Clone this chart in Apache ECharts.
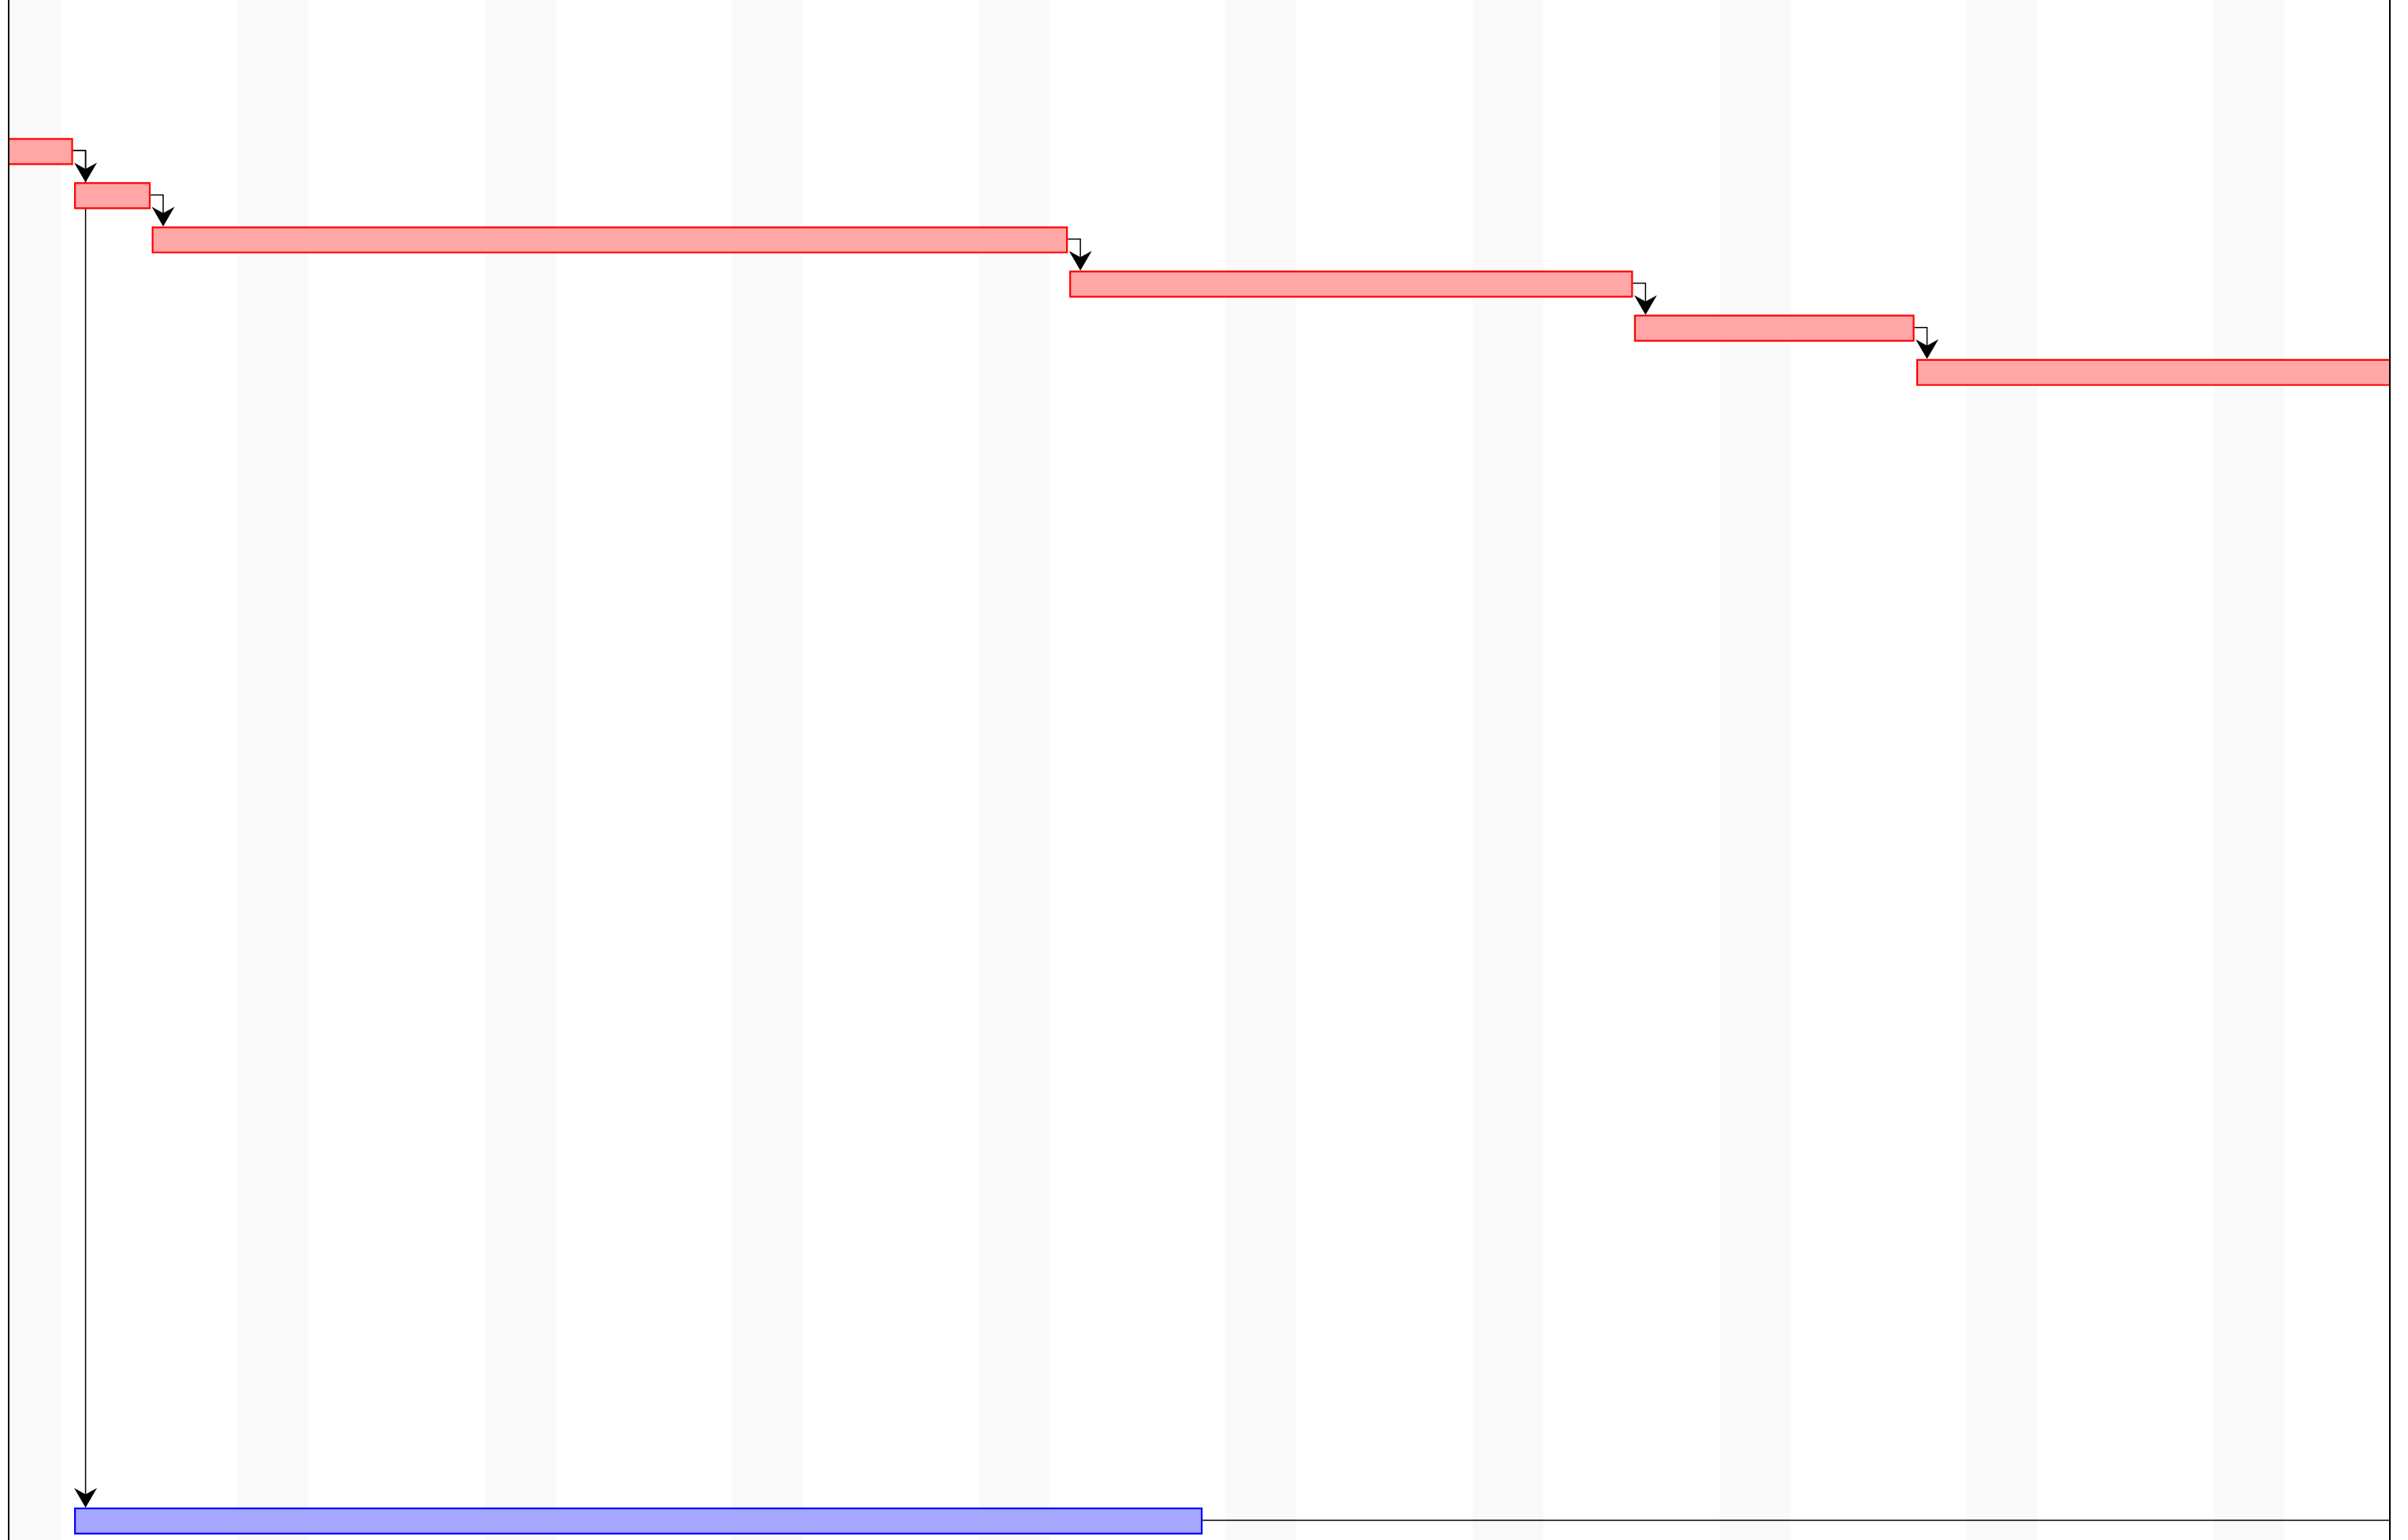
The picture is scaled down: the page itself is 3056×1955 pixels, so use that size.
<!DOCTYPE html>
<html>
<head>
<meta charset="utf-8">
<title>gantt</title>
<script src="https://cdn.jsdelivr.net/npm/echarts@6/dist/echarts.min.js"></script>
<style>
  html, body {
    margin: 0;
    padding: 0;
    background: #ffffff;
  }
  #main {
    width: 3056px;
    height: 1955px;
  }
</style>
</head>
<body>
<div id="main"></div>
<script>
// x is in days, y is the row number (0 at the top)
var taskRow = [3, 4, 5, 6, 7, 8, 34];
var taskStart = [0, 2.38, 4.58, 30.59, 46.6, 54.6, 2.38];
var taskEnd = [2.3, 4.5, 30.5, 46.52, 54.5, 72, 34.32];
var taskKind = ["red", "red", "red", "red", "red", "red", "blue"];

// dependencies, finish -> start ; -1 means the successor is past the right edge
var linkFrom = [0, 1, 2, 3, 4, 0, 6];
var linkTo = [1, 2, 3, 4, 5, 6, -1];

// weekend bands (2 days each)
var weekendStart = [0, 7, 14, 21, 28, 35, 42, 49, 56, 63];

var dayMin = 0.5;
var dayMax = 68;
var rowMin = -0.43;
var rowMax = 34.43;

var kindStyle = {
  red: { fill: "#ffa6a6", stroke: "#ff0000" },
  blue: { fill: "#a6a6ff", stroke: "#0000ff" }
};

var myChart = echarts.init(document.getElementById("main"));

function renderBand(params, api) {
  var s = api.value(0);
  var p1 = api.coord([s, rowMin]);
  var p2 = api.coord([s + 2, rowMax]);
  return {
    type: "rect",
    shape: { x: p1[0], y: p1[1], width: p2[0] - p1[0], height: p2[1] - p1[1] },
    style: { fill: "#f9f9f9" }
  };
}

function renderTask(params, api) {
  var i = params.dataIndex;
  var p1 = api.coord([api.value(0), api.value(2)]);
  var p2 = api.coord([api.value(1), api.value(2)]);
  var h = api.size([0, 1])[1] * 0.57;
  var st = kindStyle[taskKind[i]];
  return {
    type: "rect",
    shape: { x: p1[0], y: p1[1] - h / 2, width: p2[0] - p1[0], height: h },
    style: { fill: st.fill, stroke: st.stroke, lineWidth: 2.2 }
  };
}

function renderLink(params, api) {
  var a = api.value(0);
  var b = api.value(1);
  var h = api.size([0, 1])[1] * 0.57;
  var src = api.coord([taskEnd[a], taskRow[a]]);
  var y0 = src[1] - 1;
  if (b < 0) {
    var far = api.coord([dayMax + 5, taskRow[a]]);
    return {
      type: "polyline",
      shape: { points: [[src[0] + 1, y0], [far[0], y0]] },
      style: { stroke: "#000", lineWidth: 1.5, fill: null }
    };
  }
  var tgt = api.coord([taskStart[b], taskRow[b]]);
  var ax = src[0] + 17;
  var tip = tgt[1] - h / 2 - 1;
  return {
    type: "group",
    children: [
      {
        type: "polyline",
        shape: { points: [[src[0] + 1, y0], [ax, y0], [ax, tip - 10]] },
        style: { stroke: "#000", lineWidth: 1.5, fill: null }
      },
      {
        type: "polygon",
        shape: {
          points: [[ax, tip], [ax - 14.5, tip - 25], [ax, tip - 17], [ax + 14.5, tip - 25]]
        },
        style: { fill: "#000" }
      }
    ]
  };
}

var bandData = weekendStart.map(function(s) {
  return [s];
});
var taskData = taskRow.map(function(r, i) {
  return [taskStart[i], taskEnd[i], r];
});
var linkData = linkFrom.map(function(f, i) {
  return [f, linkTo[i]];
});

var edgeAxis = {
  type: "value",
  min: rowMin,
  max: rowMax,
  inverse: true,
  z: 10,
  axisLine: { show: true, onZero: false, lineStyle: { color: "#000", width: 2 } },
  axisTick: { show: false },
  axisLabel: { show: false },
  splitLine: { show: false }
};

var option = {
  animation: false,
  grid: {
    left: 11,
    right: 23,
    top: 0,
    bottom: 0
  },
  xAxis: {
    type: "value",
    min: dayMin,
    max: dayMax,
    show: false
  },
  yAxis: [
    Object.assign({ position: "left" }, edgeAxis),
    Object.assign({ position: "right" }, edgeAxis)
  ],
  series: [
    {
      name: "weekends",
      type: "custom",
      renderItem: renderBand,
      clip: true,
      silent: true,
      z: 1,
      data: bandData
    },
    {
      name: "links",
      type: "custom",
      renderItem: renderLink,
      clip: true,
      silent: true,
      z: 2,
      data: linkData
    },
    {
      name: "tasks",
      type: "custom",
      renderItem: renderTask,
      clip: true,
      z: 3,
      encode: { x: [0, 1], y: 2 },
      data: taskData
    }
  ]
};
myChart.setOption(option);
</script>
</body>
</html>
